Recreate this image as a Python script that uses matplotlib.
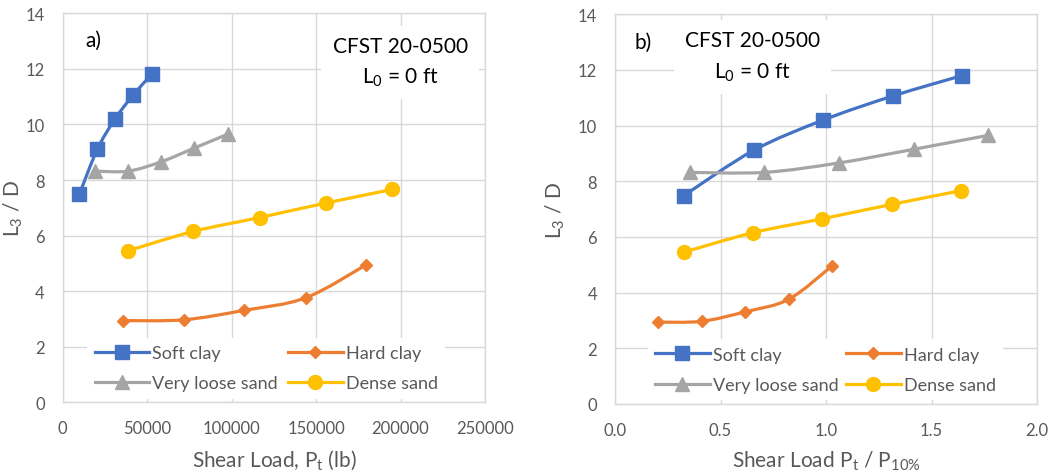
import numpy as np
import matplotlib as mpl
mpl.use('Agg')
import matplotlib.pyplot as plt
from matplotlib.path import Path
from matplotlib.patches import PathPatch
from matplotlib.lines import Line2D

plt.rcParams['font.family'] = ['Lato', 'DejaVu Sans']
plt.rcParams['mathtext.fontset'] = 'custom'
plt.rcParams['mathtext.rm'] = 'Lato'
plt.rcParams['mathtext.it'] = 'Lato'
plt.rcParams['mathtext.default'] = 'regular'

names = ['Soft clay', 'Hard clay', 'Very loose sand', 'Dense sand']
colors = ['#4472C4', '#ED7D31', '#A5A5A5', '#FFC000']
markers = ['s', 'D', '^', 'o']
msizes = [9.5, 6, 9.5, 10]

# a) shear load in lb
load_soft = [9800, 20500, 31000, 41800, 52700]
load_hard = [35900, 71600, 107500, 143800, 179700]
load_vloose = [19100, 38800, 58400, 77900, 97700]
load_dense = [38500, 77300, 116600, 155700, 195100]

# b) normalised shear load
norm_soft = [0.325, 0.657, 0.987, 1.319, 1.646]
norm_hard = [0.205, 0.411, 0.616, 0.823, 1.027]
norm_vloose = [0.354, 0.708, 1.062, 1.416, 1.769]
norm_dense = [0.325, 0.652, 0.981, 1.311, 1.638]

# L3/D (same for both panels)
l3d_soft = [7.48, 9.11, 10.2, 11.07, 11.8]
l3d_hard = [2.94, 2.97, 3.31, 3.76, 4.95]
l3d_vloose = [8.32, 8.32, 8.66, 9.15, 9.65]
l3d_dense = [5.45, 6.15, 6.65, 7.17, 7.66]

ys = [l3d_soft, l3d_hard, l3d_vloose, l3d_dense]
xs_a = [load_soft, load_hard, load_vloose, load_dense]
xs_b = [norm_soft, norm_hard, norm_vloose, norm_dense]

grid_c = '#D9D9D9'
txt_c = '#595959'


def smooth_path(x, y):
    # excel-like smoothed line as cubic bezier segments (catmull-rom)
    p = np.column_stack([x, y]).astype(float)
    n = len(p)
    verts = [p[0]]
    codes = [Path.MOVETO]
    for i in range(n - 1):
        p0 = p[i - 1] if i > 0 else p[i]
        p3 = p[i + 2] if i + 2 < n else p[i + 1]
        c1 = p[i] + (p[i + 1] - p0) / 6.0
        c2 = p[i + 1] - (p3 - p[i]) / 6.0
        verts += [c1, c2, p[i + 1]]
        codes += [Path.CURVE4] * 3
    return Path(verts, codes)


fig = plt.figure(figsize=(10.6, 4.77), dpi=100)
ax1 = fig.add_axes([0.0592, 0.1545, 0.3983, 0.8155])
ax2 = fig.add_axes([0.5802, 0.151, 0.3981, 0.817])


def draw(ax, xs, colspace):
    for x, y, c, m, ms in zip(xs, ys, colors, markers, msizes):
        ax.add_patch(PathPatch(smooth_path(x, y), fill=False, edgecolor=c,
                               lw=2.3, zorder=3, capstyle='round'))
        ax.plot(x, y, linestyle='none', marker=m, color=c, ms=ms, zorder=4)
    ax.set_ylim(0, 14)
    ax.set_yticks(range(0, 15, 2))
    ax.grid(True, color=grid_c, lw=1.0)
    ax.set_axisbelow(True)
    for s in ax.spines.values():
        s.set_color(grid_c)
        s.set_linewidth(1.0)
    ax.tick_params(length=0, labelsize=12, colors=txt_c, pad=13)
    ax.set_ylabel('L$_3$ / D', fontsize=15, color=txt_c)
    handles = [Line2D([], [], color=c, lw=2.3, marker=m, ms=ms)
               for c, m, ms in zip(colors, markers, msizes)]
    order = [0, 2, 1, 3]
    leg = ax.legend([handles[i] for i in order], [names[i] for i in order],
                    ncol=2, loc='lower left', frameon=True, fontsize=13,
                    handlelength=3.0, handletextpad=0.17, columnspacing=colspace,
                    labelspacing=0.8, borderaxespad=0.2)
    leg.get_frame().set_edgecolor('none')
    leg.get_frame().set_facecolor('white')
    leg.get_frame().set_alpha(1)
    for t in leg.get_texts():
        t.set_color(txt_c)


draw(ax1, xs_a, 0.6)
ax1.set_xlim(0, 250000)
ax1.set_xticks(range(0, 250001, 50000))
ax1.set_xlabel('Shear Load, P$_t$ (lb)', fontsize=15, color=txt_c, labelpad=8)
ax1.yaxis.set_label_coords(-0.089, 0.5)
ax1.legend_.set_bbox_to_anchor((0.05, 0.0))
ax1.text(0.053, 0.933, 'a)', transform=ax1.transAxes, fontsize=15, va='center')
ax1.text(0.799, 0.875, 'CFST 20-0500\nL$_0$ = 0 ft', transform=ax1.transAxes,
         fontsize=15, ha='center', va='center', linespacing=1.6,
         bbox=dict(facecolor='white', edgecolor='none', pad=8), zorder=5)

draw(ax2, xs_b, 0.45)
ax2.set_xlim(0, 2.0)
ax2.set_xticks(np.arange(0, 2.01, 0.5))
ax2.xaxis.set_major_formatter(mpl.ticker.FormatStrFormatter('%.1f'))
ax2.set_xlabel('Shear Load P$_t$ / P$_{10\\%}$', fontsize=15, color=txt_c, labelpad=8)
ax2.yaxis.set_label_coords(-0.114, 0.5)
ax2.legend_.set_bbox_to_anchor((0.07, 0.0))
ax2.text(0.047, 0.93, 'b)', transform=ax2.transAxes, fontsize=15, va='center')
ax2.text(0.325, 0.892, 'CFST 20-0500\nL$_0$ = 0 ft', transform=ax2.transAxes,
         fontsize=15, ha='center', va='center', linespacing=1.6,
         bbox=dict(facecolor='white', edgecolor='none', pad=8), zorder=5)

plt.savefig('out.png', dpi=100)
